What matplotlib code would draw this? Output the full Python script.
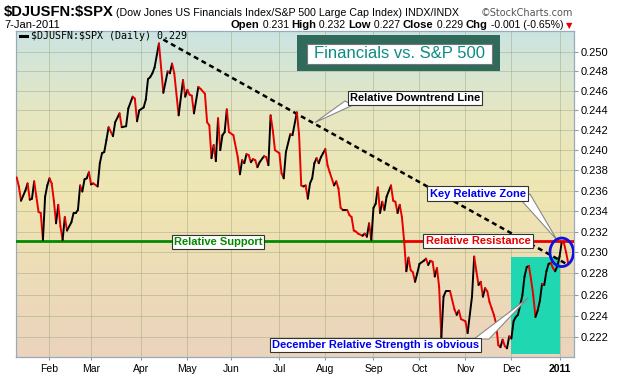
#financials vs s&p 500 relative strength chart (stockcharts style)
import numpy as np
import matplotlib
matplotlib.use('Agg')
import matplotlib.pyplot as plt
from matplotlib.collections import LineCollection
from matplotlib.patches import Rectangle, Ellipse, Polygon
from matplotlib.colors import LinearSegmentedColormap
import matplotlib.ticker as mticker

#trading session number (0 = 8-Jan-2010) and the ratio on that session
session = [0, 1, 2, 4, 5, 6, 7, 8, 9, 10, 11, 12, 13, 14, 15, 16, 17, 18, 19, 20,
           21, 22, 23, 25, 26, 27, 28, 29, 30, 31, 32, 33, 34, 35, 37, 38, 39, 40, 41, 42,
           44, 45, 47, 48, 50, 51, 53, 54, 55, 56, 58, 59, 60, 61, 62, 63, 65, 67, 69, 70,
           71, 72, 74, 76, 77, 78, 79, 80, 81, 83, 84, 86, 87, 88, 89, 90, 91, 92, 93, 94,
           95, 96, 97, 99, 101, 102, 103, 104, 105, 106, 107, 108, 109, 110, 111, 113, 114, 115, 116, 117,
           118, 120, 121, 122, 123, 125, 126, 128, 129, 130, 131, 132, 133, 134, 135, 136, 137, 138, 139, 140,
           141, 142, 143, 145, 146, 147, 148, 149, 151, 152, 153, 154, 155, 156, 158, 159, 160, 161, 162, 163,
           164, 165, 166, 167, 168, 169, 171, 172, 173, 174, 175, 176, 177, 178, 179, 180, 181, 182, 183, 184,
           186, 187, 188, 189, 190, 191, 192, 193, 194, 195, 196, 198, 200, 201, 202, 203, 205, 206, 208, 209,
           210, 211, 212, 213, 214, 215, 216, 217, 218, 219, 220, 221, 222, 223, 224, 225, 226, 227, 228, 229,
           231, 232, 233, 234, 235, 236, 237, 238, 239, 240, 241, 242, 243, 244, 245, 246, 247, 248, 249, 250,
           251, 252]
ratio = [0.2373, 0.2364, 0.2350, 0.2360, 0.2367, 0.2351, 0.2352, 0.2369, 0.2354, 0.2339, 0.2338, 0.2312, 0.2354, 0.2365, 0.2372, 0.2367, 0.2350, 0.2328, 0.2346, 0.2325,
         0.2312, 0.2334, 0.2321, 0.2329, 0.2338, 0.2338, 0.2341, 0.2365, 0.2359, 0.2371, 0.2372, 0.2378, 0.2366, 0.2367, 0.2364, 0.2387, 0.2397, 0.2398, 0.2410, 0.2423,
         0.2414, 0.2428, 0.2437, 0.2423, 0.2424, 0.2442, 0.2454, 0.2452, 0.2429, 0.2440, 0.2443, 0.2451, 0.2472, 0.2474, 0.2478, 0.2484, 0.2509, 0.2458, 0.2480, 0.2478,
         0.2488, 0.2478, 0.2435, 0.2471, 0.2454, 0.2461, 0.2456, 0.2455, 0.2437, 0.2464, 0.2462, 0.2457, 0.2428, 0.2425, 0.2392, 0.2405, 0.2389, 0.2432, 0.2400, 0.2415,
         0.2418, 0.2441, 0.2418, 0.2415, 0.2393, 0.2376, 0.2390, 0.2387, 0.2396, 0.2395, 0.2388, 0.2391, 0.2390, 0.2383, 0.2388, 0.2394, 0.2393, 0.2385, 0.2435, 0.2420,
         0.2400, 0.2397, 0.2377, 0.2372, 0.2398, 0.2416, 0.2415, 0.2438, 0.2416, 0.2365, 0.2364, 0.2365, 0.2352, 0.2367, 0.2372, 0.2387, 0.2392, 0.2387, 0.2393, 0.2397,
         0.2401, 0.2385, 0.2378, 0.2365, 0.2369, 0.2362, 0.2343, 0.2341, 0.2341, 0.2336, 0.2334, 0.2321, 0.2320, 0.2318, 0.2316, 0.2318, 0.2315, 0.2328, 0.2312, 0.2343,
         0.2347, 0.2363, 0.2338, 0.2349, 0.2341, 0.2354, 0.2365, 0.2350, 0.2349, 0.2338, 0.2346, 0.2334, 0.2311, 0.2282, 0.2295, 0.2283, 0.2281, 0.2272, 0.2280, 0.2289,
         0.2292, 0.2294, 0.2288, 0.2292, 0.2291, 0.2277, 0.2285, 0.2267, 0.2220, 0.2258, 0.2263, 0.2263, 0.2246, 0.2241, 0.2245, 0.2237, 0.2235, 0.2224, 0.2258, 0.2296,
         0.2282, 0.2269, 0.2272, 0.2258, 0.2266, 0.2263, 0.2253, 0.2247, 0.2241, 0.2233, 0.2213, 0.2211, 0.2218, 0.2212, 0.2210, 0.2221, 0.2219, 0.2235, 0.2239, 0.2241,
         0.2259, 0.2277, 0.2286, 0.2287, 0.2274, 0.2259, 0.2239, 0.2245, 0.2254, 0.2270, 0.2269, 0.2282, 0.2289, 0.2290, 0.2285, 0.2282, 0.2287, 0.2296, 0.2310, 0.2309,
         0.2300, 0.2289]

start_date = '2010-01-08'
nyse_holidays = ['2010-01-18', '2010-02-15', '2010-04-02', '2010-05-31', '2010-07-05',
                 '2010-09-06', '2010-11-25', '2010-12-24']
month_starts = ['2010-02-01', '2010-03-01', '2010-04-01', '2010-05-03', '2010-06-01', '2010-07-01',
                '2010-08-02', '2010-09-01', '2010-10-01', '2010-11-01', '2010-12-01', '2011-01-03']
month_labels = ['Feb', 'Mar', 'Apr', 'May', 'Jun', 'Jul', 'Aug', 'Sep', 'Oct', 'Nov', 'Dec', '2011']
y_ticks = [0.222, 0.224, 0.226, 0.228, 0.230, 0.232, 0.234, 0.236, 0.238, 0.240,
           0.242, 0.244, 0.246, 0.248, 0.250]

support_level = 0.2311
support_break_date = '2010-09-22'
trend_dates = ['2010-04-16', '2011-01-07']
trend_values = [0.2513, 0.2288]
december = ['2010-12-01', '2011-01-03']
december_top = 0.2296

def sess(d):
    return np.busday_count(start_date, d, holidays=nyse_holidays)

RED = '#e80000'
GREEN = '#008a00'
BLUE = '#0000ee'
HFONT = ['Liberation Sans Narrow', 'Liberation Sans']

fig = plt.figure(figsize=(6.2, 3.76), dpi=100)
fig.patch.set_facecolor('white')
ax = fig.add_axes([16/620, 1 - 357/376, 558/620, 326/376])
ax.set_yscale('log')
x_left, x_right = -0.3, 254.6
ax.set_xlim(x_left, x_right)
ax.set_ylim(0.2202, 0.2522)

# background gradient
cmap = LinearSegmentedColormap.from_list('bg', [(0, '#ebd3bd'), (0.5, '#efe6b2'), (0.75, '#e6e7c2'), (1, '#cbe4e2')])
grad = np.linspace(0, 1, 256).reshape(-1, 1)
ax.imshow(grad, extent=[0, 1, 0, 1], transform=ax.transAxes, aspect='auto',
          cmap=cmap, origin='lower', zorder=0)

# grid
month_pos = [sess(d) for d in month_starts]
for m in month_pos:
    ax.axvline(m, color='#9aa47a', lw=0.7, alpha=0.45, zorder=1)
for t in y_ticks:
    ax.axhline(t, color='#9aa47a', lw=0.7, alpha=0.45, zorder=1)

# december shading
d0, d1 = sess(december[0]), sess(december[1])
ax.add_patch(Rectangle((d0, 0.22045), d1 - d0, december_top - 0.22045,
                       facecolor='#1fd8b2', edgecolor='none', zorder=2))

# support / resistance
brk = sess(support_break_date)
ax.plot([x_left, brk], [support_level, support_level], color=GREEN, lw=2, zorder=3)
ax.plot([brk, x_right], [support_level, support_level], color=RED, lw=2, zorder=3)

# downtrend line
ax.plot([sess(d) for d in trend_dates], trend_values, color='black', lw=1.8,
        linestyle=(0, (2, 1.5)), zorder=4)

# price ratio line, black when rising and red when falling
pts = np.column_stack([session, ratio])
segs = np.stack([pts[:-1], pts[1:]], axis=1)
cols = ['black' if ratio[i + 1] >= ratio[i] else RED for i in range(len(ratio) - 1)]
ax.add_collection(LineCollection(segs, colors=cols, linewidths=1.4, zorder=5,
                                 capstyle='round', joinstyle='round'))

# axes styling
ax.yaxis.tick_right()
ax.yaxis.set_major_locator(mticker.FixedLocator(y_ticks))
ax.yaxis.set_minor_locator(mticker.NullLocator())
ax.yaxis.set_major_formatter(mticker.FormatStrFormatter('%.3f'))
ax.set_xticks(month_pos)
ax.set_xticklabels(month_labels)
ax.tick_params(axis='y', labelsize=8, length=3, color='#8899aa', pad=1.5)
ax.tick_params(axis='x', labelsize=7.5, length=2, color='#8899aa', pad=3)
for lab in ax.get_xticklabels() + ax.get_yticklabels():
    lab.set_family('Liberation Sans')
ax.get_xticklabels()[-1].set_fontweight('bold')
for sp in ax.spines.values():
    sp.set_color('#99aabb')
    sp.set_linewidth(0.9)
ax.spines['right'].set_linestyle((0, (1, 1)))

def px(x, y):
    return ((x - 16) / 558, (357 - y) / 326)

# legend inside
ax.plot([px(20, 0)[0], px(27, 0)[0]], [px(0, 36)[1]] * 2, transform=ax.transAxes,
        color='black', lw=2.2, zorder=6)
ax.text(*px(31, 36), '$DJUSFN:$SPX (Daily) 0.229', transform=ax.transAxes,
        fontsize=7.2, family='DejaVu Sans Mono', va='center', ha='left',
        parse_math=False, zorder=6)

# title box
ax.add_patch(Rectangle(px(297, 71), 203 / 558, 36 / 326, transform=ax.transAxes,
                       facecolor='#2f6a5a', edgecolor='none', zorder=6))
ax.add_patch(Rectangle(px(307, 63.5), 185 / 558, 19.5 / 326, transform=ax.transAxes,
                       facecolor='white', edgecolor='#777777', lw=0.8, zorder=7))
ax.text(*px(399.5, 54), 'Financials vs. S&P 500', transform=ax.transAxes,
        fontsize=12, color='#0e8a84', ha='center', va='center',
        family='Liberation Sans', zorder=8)

# callout wedges
wedges = [[(345, 101), (353, 105), (315, 122.5)],
          [(521, 200), (530, 194), (557, 240)],
          [(474, 339), (489, 339), (528, 298)]]
for w in wedges:
    ax.add_patch(Polygon([px(*p) for p in w], closed=True, transform=ax.transAxes,
                         facecolor='white', edgecolor='#888888', lw=0.8, zorder=8))

def label(x, y, s, c):
    ax.text(*px(x, y), s, transform=ax.transAxes, fontsize=8, fontweight='bold',
            color=c, ha='center', va='center', family='Liberation Sans', zorder=9,
            bbox=dict(boxstyle='square,pad=0.2', facecolor='white', edgecolor='#333333', lw=0.8))

label(415, 98, 'Relative Downtrend Line', 'black')
label(218, 242, 'Relative Support', GREEN)
label(478, 241, 'Relative Resistance', RED)
label(477.5, 193.5, 'Key Relative Zone', BLUE)
label(375.5, 345, 'December Relative Strength is obvious', BLUE)

# key zone circle
ax.add_patch(Ellipse(px(561.7, 252.3), 23.5 / 558, 28.5 / 326, transform=ax.transAxes,
                     facecolor='none', edgecolor='#1010e0', lw=2, zorder=9))

# header
fig.text(4 / 620, 1 - 16 / 376, '$DJUSFN:$SPX', fontsize=10.6, fontweight='bold',
         family=HFONT, parse_math=False)
fig.text(116 / 620, 1 - 16 / 376, '(Dow Jones US Financials Index/S&P 500 Large Cap Index) INDX/INDX',
         fontsize=7.7, family=HFONT, parse_math=False)
fig.text(573 / 620, 1 - 16 / 376, '\u00a9StockCharts.com', fontsize=7, color='#555555',
         ha='right', family='DejaVu Sans')
fig.text(4 / 620, 1 - 28 / 376, '7-Jan-2011', fontsize=8, family=HFONT)

pieces = [('Open', 'bold'), (' 0.231 ', 'normal'), ('High', 'bold'), (' 0.232 ', 'normal'),
          ('Low', 'bold'), (' 0.227 ', 'normal'), ('Close', 'bold'), (' 0.229 ', 'normal'),
          ('Chg', 'bold'), (' -0.001 (-0.65%)', 'normal')]
renderer = fig.canvas.get_renderer()
xcur = 563
for s, w in reversed(pieces):
    t = fig.text(xcur / 620, 1 - 28 / 376, s, fontsize=8.1 if w == 'bold' else 7.6,
                 fontweight=w, ha='right', family=HFONT)
    xcur -= t.get_window_extent(renderer).width
fig.text(569 / 620, 1 - 28 / 376, '\u25bc', fontsize=6, color=RED, ha='center', family='DejaVu Sans')

fig.savefig('out.png', dpi=100)
